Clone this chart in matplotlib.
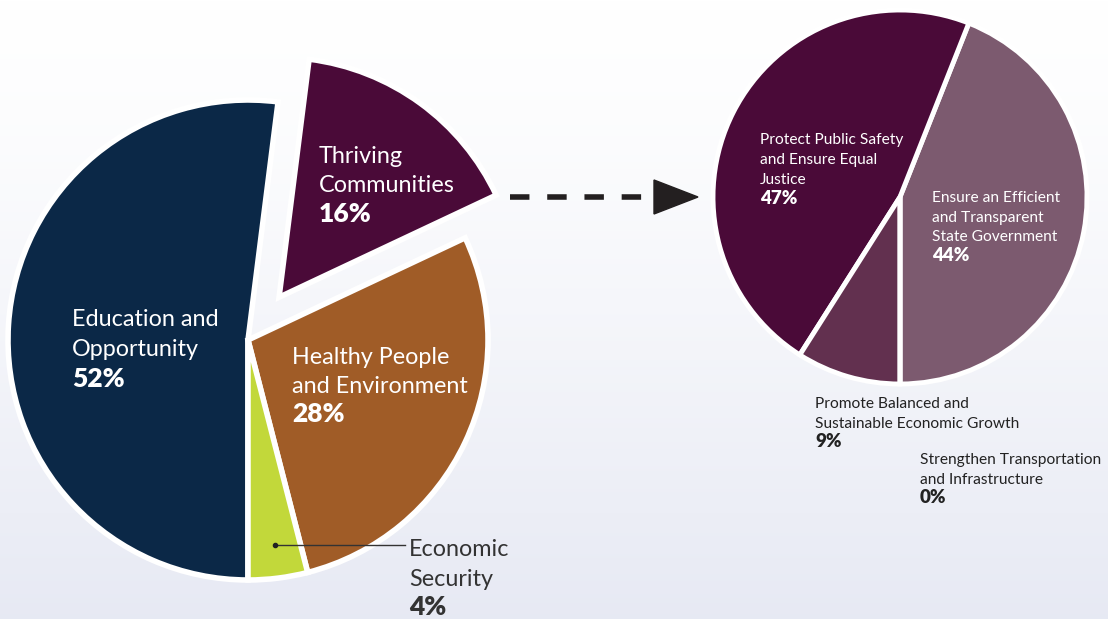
import numpy as np
import matplotlib.pyplot as plt
from matplotlib.patches import Polygon

# Left pie: budget by goal
goals = ["Education and\nOpportunity", "Thriving\nCommunities",
         "Healthy People\nand Environment", "Economic\nSecurity"]
goal_shares = [52, 16, 28, 4]
goal_colors = ["#0b2847", "#4a0a38", "#a05c27", "#c2d83a"]

# Right pie: breakdown of Thriving Communities
sub_goals = ["Ensure an Efficient\nand Transparent\nState Government",
             "Protect Public Safety\nand Ensure Equal\nJustice",
             "Promote Balanced and\nSustainable Economic Growth",
             "Strengthen Transportation\nand Infrastructure"]
sub_shares = [44, 47, 9, 0]
sub_colors = ["#7c5a6f", "#4a0a38", "#62304f", "#62304f"]

plt.rcParams["font.family"] = ["Lato", "DejaVu Sans"]

W, H = 1108, 619
fig = plt.figure(figsize=(W / 100, H / 100), dpi=100)
ax = fig.add_axes([0, 0, 1, 1])

# background gradient, white at top to pale blue-grey at bottom
grad = np.linspace(0, 1, 256).reshape(-1, 1)
top = np.array([1.0, 1.0, 1.0])
bot = np.array([0.905, 0.915, 0.955])
img = top + (bot - top) * grad[..., None] ** 1.3
ax.imshow(img, extent=[0, W, 0, H], origin="upper", aspect="auto", zorder=0)

def py(y):
    return H - y

R1 = 240
# left pie (explode is absolute here since radius is in pixels)
ax.pie(goal_shares, colors=goal_colors, startangle=-90, counterclock=False,
       explode=[0, 0.22 * R1, 0, 0], radius=R1, center=(248, py(340)),
       wedgeprops=dict(edgecolor="white", linewidth=4), frame=True)
# right pie
ax.pie(sub_shares, colors=sub_colors, startangle=-90, counterclock=True,
       radius=187, center=(900, py(197)),
       wedgeprops=dict(edgecolor="white", linewidth=3.5), frame=True)
ax.set_xlim(0, W)
ax.set_ylim(0, H)
ax.set_aspect("auto")
ax.axis("off")

def label(x, y0, name, pct, size, psize, color, gap):
    lines = name.split("\n")
    for i, ln in enumerate(lines):
        ax.text(x, py(y0 + i * gap), ln, fontsize=size, color=color,
                va="baseline", ha="left", zorder=5)
    ax.text(x, py(y0 + len(lines) * gap), pct, fontsize=psize, color=color,
            fontweight="heavy", va="baseline", ha="left", zorder=5)

big, bigp = 16.8, 19
small, smallp = 11.2, 13.5
label(72, 326, goals[0], f"{goal_shares[0]}%", big, bigp, "white", 30.5)
label(319, 163, goals[1], f"{goal_shares[1]}%", big, bigp, "white", 29.5)
label(292, 364, goals[2], f"{goal_shares[2]}%", big, bigp, "white", 29)
label(409, 556, goals[3], f"{goal_shares[3]}%", big, bigp, "#333333", 29.5)

label(760, 144, sub_goals[1], f"{sub_shares[1]}%", small, smallp, "white", 20)
label(932, 202, sub_goals[0], f"{sub_shares[0]}%", small, smallp, "white", 19.7)
label(815, 408, sub_goals[2], f"{sub_shares[2]}%", small, smallp, "#222222", 19.7)
label(920, 464, sub_goals[3], f"{sub_shares[3]}%", small, smallp, "#222222", 19.7)

# leader for Economic Security
ax.plot([275, 405], [py(545), py(545)], color="#333333", lw=1, zorder=6)
ax.plot([275], [py(545)], "o", color="#222222", ms=3, zorder=6)

# dashed arrow between pies
ax.plot([510, 650], [py(197), py(197)], color="#231f20", lw=4,
        dashes=(3.5, 3.2), zorder=6)
ax.add_patch(Polygon([(654, py(180)), (654, py(214)), (698, py(197))],
                     closed=True, color="#231f20", zorder=6))

fig.savefig("out.png", dpi=100)
